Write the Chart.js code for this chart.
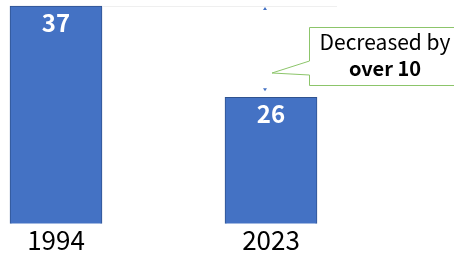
<!DOCTYPE html>
<html>
<head>
<meta charset="utf-8">
<script src="https://cdn.jsdelivr.net/npm/chart.js@4"></script>
<style>
  html, body { margin: 0; padding: 0; background: #fff; }
  #wrap { width: 454px; height: 256px; }
</style>
</head>
<body>
<div id="wrap"><canvas id="myChart" width="454" height="256"></canvas></div>
<script>
// data
const years = ["1994", "2023"];
const counts = [37, 26];
const calloutLines = ["Decreased by", "over 10"];

const FONT = "'Noto Sans CJK JP', 'Noto Sans', sans-serif";
const ctx = document.getElementById('myChart').getContext("2d");

// value labels inside the bars + reference line, arrow and callout
const extras = {
    id: 'extras',
    afterDatasetsDraw(chart) {
        const c = chart.ctx;
        const bars = chart.getDatasetMeta(0).data;
        const y = chart.scales.y;

        c.save();
        // values
        c.fillStyle = "#fff";
        c.font = "bold 24px " + FONT;
        c.textAlign = "center";
        c.textBaseline = "middle";
        bars.forEach((b, i) => {
            c.fillText(counts[i], b.x, b.y + 17);
        });

        // faint line at the 1994 level
        const topY = y.getPixelForValue(counts[0]);
        const lowY = y.getPixelForValue(counts[1]);
        c.strokeStyle = "#efefef";
        c.lineWidth = 1;
        c.beginPath();
        c.moveTo(bars[0].x + 47, topY + 0.5);
        c.lineTo(337, topY + 0.5);
        c.stroke();

        // small arrow heads
        const ax = bars[1].x - 6;
        c.fillStyle = "#4472C4";
        c.beginPath();
        c.moveTo(ax, topY + 1);
        c.lineTo(ax - 2, topY + 4);
        c.lineTo(ax + 2, topY + 4);
        c.fill();
        c.beginPath();
        c.moveTo(ax, lowY - 6);
        c.lineTo(ax - 2, lowY - 9);
        c.lineTo(ax + 2, lowY - 9);
        c.fill();

        // callout
        c.strokeStyle = "#8CC56A";
        c.fillStyle = "#fff";
        c.lineWidth = 1;
        c.beginPath();
        c.moveTo(309.5, 27.5);
        c.lineTo(460, 27.5);
        c.lineTo(460, 85.5);
        c.lineTo(309.5, 85.5);
        c.lineTo(309.5, 75);
        c.lineTo(272, 73);
        c.lineTo(309.5, 61);
        c.closePath();
        c.fill();
        c.stroke();

        c.fillStyle = "#000";
        c.textBaseline = "alphabetic";
        c.font = "21px " + FONT;
        c.fillText(calloutLines[0], 385, 50);
        c.font = "bold 20px " + FONT;
        c.fillText(calloutLines[1], 385, 76);
        c.restore();
    }
};

const myChart = new Chart(ctx, {
    type: 'bar',
    data: {
        labels: years,
        datasets: [{
            data: counts,
            backgroundColor: "#4472C4",
            borderColor: "#2F528F",
            borderWidth: 1,
            barThickness: 92,
            // let bars spill sideways but cut them at the axis line
            clip: { left: false, right: false, top: false, bottom: 0 }
        }]
    },
    options: {
        responsive: false,
        animation: false,
        layout: { padding: { left: 56, right: 183, top: 6, bottom: 0 } },
        plugins: { legend: { display: false }, tooltip: { enabled: false } },
        scales: {
            x: {
                offset: false,
                grid: { display: false, drawTicks: false },
                border: { display: false },
                ticks: {
                    padding: 0,
                    color: "#000",
                    maxRotation: 0,
                    font: { family: FONT, size: 26, lineHeight: 1.25 }
                }
            },
            y: {
                display: false,
                min: 10.8,
                max: 37
            }
        }
    },
    plugins: [extras]
});
</script>
</body>
</html>
